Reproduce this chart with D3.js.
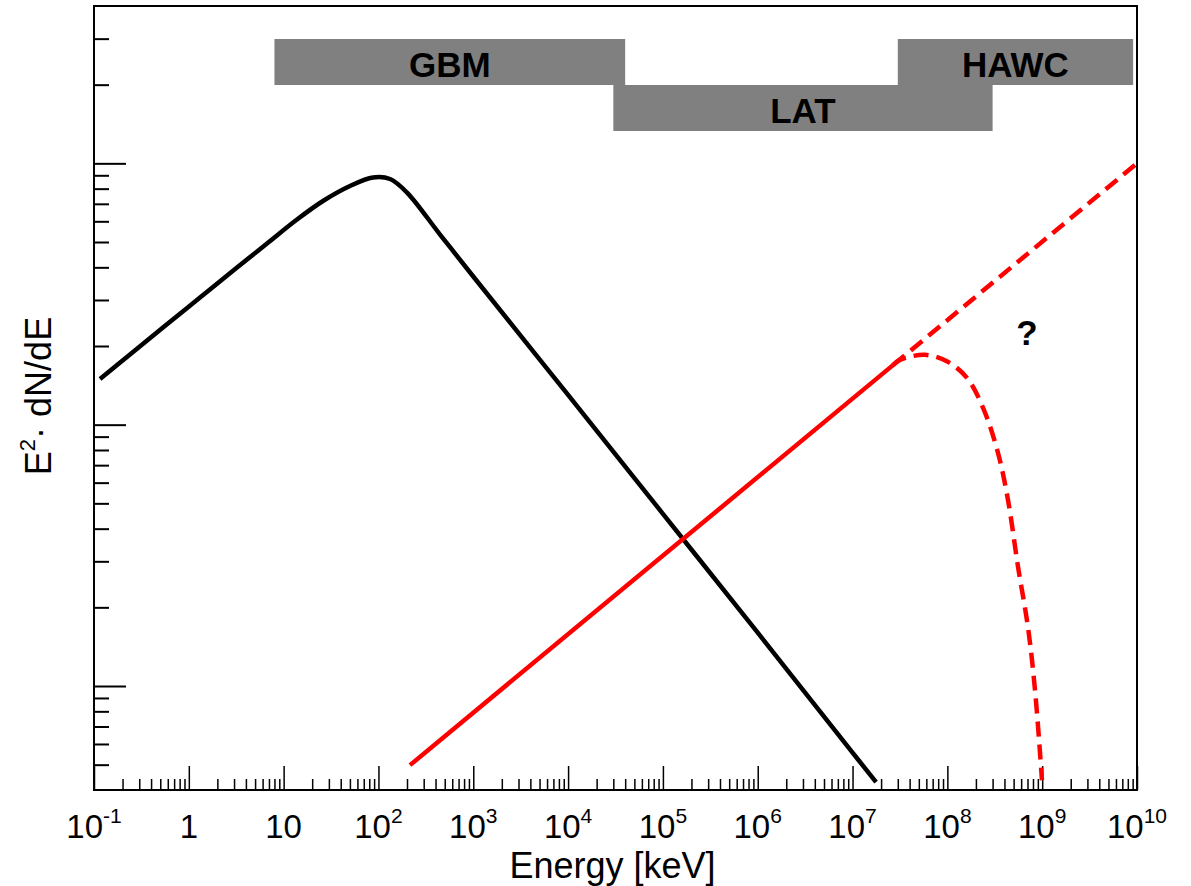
<!DOCTYPE html>
<html>
<head>
<meta charset="utf-8">
<script src="https://cdn.jsdelivr.net/npm/d3@7"></script>
<style>
  body { margin: 0; background: #fff; }
  svg text { font-family: "Liberation Sans", Arial, Helvetica, sans-serif; fill: #000; }
</style>
</head>
<body>
<svg id="chart" width="1191" height="886"></svg>
<script>
// Energy in keV, flux as E^2 dN/dE (arbitrary units)
const promptEnergy = [0.1157, 0.2397, 0.534, 1.312, 3.222, 6.675, 13.83, 26.0, 50.1, 87.6, 132.4, 200, 446,
  1e3, 1e4, 1e5, 1e6, 1e7, 1.77e7];
const promptFlux = [14.96, 18.56, 23.54, 30.67, 39.94, 49.35, 60.97, 71.77, 81.9, 88.25, 87.1, 77.3, 53.4,
  36.9, 13.0, 4.56, 1.60, 0.556, 0.429];

const extraEnergy = [215, 2.67e7];
const extraFlux = [0.498, 16.9];
const openEnergy = [2.67e7, 1e10];
const openFlux = [16.9, 100];
const cutoffEnergy = [2.67e7, 3.16e7, 5.8e7, 1.01e8, 1.61e8, 2.38e8, 3.42e8, 4.36e8, 5.56e8, 7.08e8, 8.4e8, 9.95e8];
const cutoffFlux = [16.9, 17.7, 18.5, 17.4, 15.1, 11.6, 7.8, 5.15, 2.86, 1.68, 0.966, 0.436];

const instruments = ['GBM', 'LAT', 'HAWC'];
const instrumentLow = [8, 3e4, 3e7];
const instrumentHigh = [4e4, 3e8, 9.1e9];
const instrumentRow = [0, 1, 0];

const xMajorExps = d3.range(-1, 11);
const xTickLabels = [['10', '-1'], ['1', ''], ['10', ''], ['10', '2'], ['10', '3'], ['10', '4'],
  ['10', '5'], ['10', '6'], ['10', '7'], ['10', '8'], ['10', '9'], ['10', '10']];
const yMajor = [1, 10, 100];

const questionE = 6.9e8;
const questionF = 20.2;

const svg = d3.select('#chart');
const plotLeft = 94, plotRight = 1137, plotTop = 6, plotBottom = 790;

const x = d3.scaleLog().domain([0.1, 1e10]).range([plotLeft, plotRight]);
const y = d3.scaleLog().domain([0.4, 400]).range([plotBottom, plotTop]);
const row = d3.scaleBand().domain([0, 1]).range([39, 131]);

// minor ticks
const xMinor = [];
xMajorExps.slice(0, -1).forEach(k => d3.range(2, 10).forEach(m => xMinor.push(m * Math.pow(10, k))));
const yMinor = [];
[-1, 0, 1, 2].forEach(k => d3.range(2, 10).forEach(m => {
  const v = m * Math.pow(10, k);
  if (v > 0.4 && v < 400) yMinor.push(v);
}));

const noDomain = g => g.select('.domain').remove();

// Axes (ticks point inward)
svg.append('g')
  .attr('transform', `translate(0,${plotBottom})`)
  .call(d3.axisBottom(x).tickValues(xMinor).tickSize(-11).tickFormat(''))
  .call(noDomain)
  .selectAll('line').attr('stroke-width', 1.5);
svg.append('g')
  .attr('transform', `translate(0,${plotBottom})`)
  .call(d3.axisBottom(x).tickValues(xMajorExps.map(k => Math.pow(10, k))).tickSize(-24).tickFormat(''))
  .call(noDomain)
  .selectAll('line').attr('stroke-width', 1.5);
svg.append('g')
  .attr('transform', `translate(${plotLeft},0)`)
  .call(d3.axisLeft(y).tickValues(yMinor).tickSize(-15).tickFormat(''))
  .call(noDomain)
  .selectAll('line').attr('stroke-width', 2);
svg.append('g')
  .attr('transform', `translate(${plotLeft},0)`)
  .call(d3.axisLeft(y).tickValues(yMajor).tickSize(-32).tickFormat(''))
  .call(noDomain)
  .selectAll('line').attr('stroke-width', 2);

// tick labels with superscripts
const labels = svg.append('g').attr('class', 'x-labels');
xTickLabels.forEach((lab, i) => {
  const t = labels.append('text')
    .attr('x', x(Math.pow(10, xMajorExps[i])))
    .attr('y', 838)
    .attr('text-anchor', 'middle')
    .style('font-size', '33px');
  t.append('tspan').text(lab[0]);
  if (lab[1]) t.append('tspan').attr('dy', -15).style('font-size', '21px').text(lab[1]);
});

// Instrument bands
const bars = svg.append('g').attr('class', 'instruments');
instruments.forEach((name, i) => {
  const x0 = x(instrumentLow[i]);
  const x1 = x(instrumentHigh[i]);
  const y0 = row(instrumentRow[i]);
  bars.append('rect')
    .attr('x', x0).attr('y', y0)
    .attr('width', x1 - x0).attr('height', row.bandwidth())
    .attr('fill', '#808080');
  bars.append('text')
    .attr('x', (x0 + x1) / 2)
    .attr('y', y0 + row.bandwidth() / 2 + 15)
    .attr('text-anchor', 'middle')
    .style('font-size', '35px')
    .style('font-weight', 'bold')
    .text(name);
});

// Spectra
svg.append('clipPath').attr('id', 'plot-clip')
  .append('rect').attr('x', plotLeft).attr('y', plotTop)
  .attr('width', plotRight - plotLeft).attr('height', plotBottom - plotTop);

const line = d3.line()
  .x(d => x(d[0]))
  .y(d => y(d[1]))
  .curve(d3.curveCatmullRom.alpha(0.5));

const curves = svg.append('g').attr('clip-path', 'url(#plot-clip)')
  .attr('fill', 'none').attr('stroke-width', 4.5);

curves.append('path')
  .datum(promptEnergy.map((e, i) => [e, promptFlux[i]]))
  .attr('stroke', '#000')
  .attr('d', line);

curves.append('path')
  .datum(extraEnergy.map((e, i) => [e, extraFlux[i]]))
  .attr('stroke', '#ff0000')
  .attr('d', line);

curves.append('path')
  .datum(openEnergy.map((e, i) => [e, openFlux[i]]))
  .attr('stroke', '#ff0000')
  .attr('stroke-dasharray', '15,8')
  .attr('d', line);

curves.append('path')
  .datum(cutoffEnergy.map((e, i) => [e, cutoffFlux[i]]))
  .attr('stroke', '#ff0000')
  .attr('stroke-dasharray', '15,8')
  .attr('d', line);

svg.append('text')
  .attr('x', x(questionE))
  .attr('y', y(questionF))
  .attr('text-anchor', 'middle')
  .style('font-size', '35px')
  .style('font-weight', 'bold')
  .text('?');

// Frame
svg.append('rect')
  .attr('x', plotLeft).attr('y', plotTop)
  .attr('width', plotRight - plotLeft).attr('height', plotBottom - plotTop)
  .attr('fill', 'none')
  .attr('stroke', '#000')
  .attr('stroke-width', 2);

// Axis titles
svg.append('text')
  .attr('x', (plotLeft + plotRight) / 2 - 3)
  .attr('y', 878)
  .attr('text-anchor', 'middle')
  .style('font-size', '36px')
  .text('Energy [keV]');

const yTitle = svg.append('text')
  .attr('transform', 'translate(51,396) rotate(-90)')
  .attr('text-anchor', 'middle')
  .style('font-size', '36px');
yTitle.append('tspan').text('E');
yTitle.append('tspan').attr('dy', -16).style('font-size', '22px').text('2');
yTitle.append('tspan').attr('dy', 16).text('\u00b7 dN/dE');
</script>
</body>
</html>
